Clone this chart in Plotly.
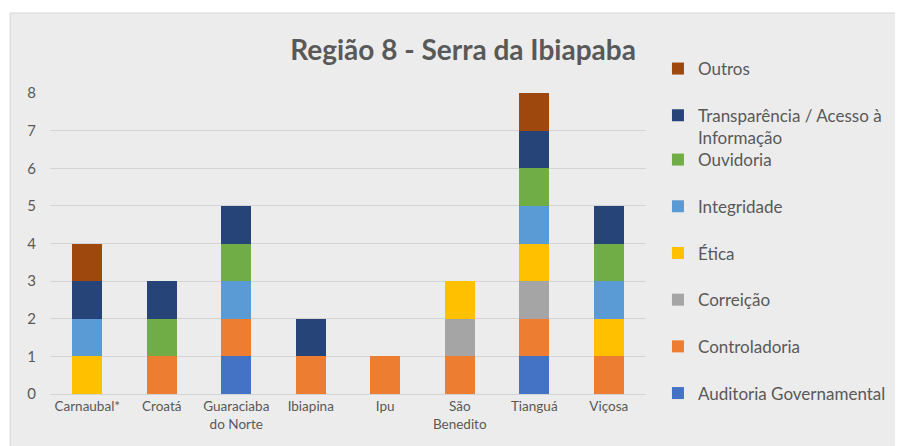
import plotly.graph_objects as go

categories = ["Carnaubal*", "Croatá", "Guaraciaba<br>do Norte", "Ibiapina", "Ipu",
              "São<br>Benedito", "Tianguá", "Viçosa"]

# series listed bottom-of-stack first
auditoria     = [0, 0, 1, 0, 0, 0, 1, 0]
controladoria = [0, 1, 1, 1, 1, 1, 1, 1]
correicao     = [0, 0, 0, 0, 0, 1, 1, 0]
etica         = [1, 0, 0, 0, 0, 1, 1, 1]
integridade   = [1, 0, 1, 0, 0, 0, 1, 1]
ouvidoria     = [0, 1, 1, 0, 0, 0, 1, 1]
transparencia = [1, 1, 1, 1, 0, 0, 1, 1]
outros        = [1, 0, 0, 0, 0, 0, 1, 0]

series = [
    ("Auditoria Governamental", auditoria, "#4472C4", "legend2"),
    ("Controladoria", controladoria, "#ED7D31", "legend2"),
    ("Correição", correicao, "#A5A5A5", "legend2"),
    ("Ética", etica, "#FFC000", "legend2"),
    ("Integridade", integridade, "#5B9BD5", "legend2"),
    ("Ouvidoria", ouvidoria, "#70AD47", "legend2"),
    ("Transparência / Acesso à<br>Informação", transparencia, "#264478", "legend"),
    ("Outros", outros, "#9E480E", "legend"),
]

y_ticks = [0, 1, 2, 3, 4, 5, 6, 7, 8]

FONT = "Lato, 'Open Sans', sans-serif"
TXT = "#595959"

# page is rendered inside a body with 8px margin: work in page pixels, shift by OFF
OFF = 8
W, H = 903 - OFF, 446 - OFF

def fx(p):  # page px -> figure px
    return p - OFF

L, T = fx(50), fx(93)
R = W - fx(648)
B = H - fx(394)
pw, ph = W - L - R, H - T - B

def px_x(p):
    return (fx(p) - L) / pw

def px_y(p):
    return (H - B - fx(p)) / ph

fig = go.Figure()
n = len(series)
for i, (name, vals, color, lg) in enumerate(series):
    fig.add_trace(go.Bar(
        x=categories, y=vals, name=name, marker=dict(color=color, line=dict(width=0)),
        legend=lg, legendgroup=f"g{i}", legendrank=n - i,
    ))

fig.add_shape(type="rect", xref="paper", yref="paper",
              x0=px_x(10), x1=px_x(920), y0=px_y(470), y1=px_y(13),
              fillcolor="#ececec", line=dict(color="#d6d6d6", width=1), layer="below")

legend_common = dict(
    font=dict(family=FONT, size=17, color=TXT),
    bgcolor="rgba(0,0,0,0)", traceorder="grouped",
    tracegroupgap=21.6, valign="top", xanchor="left", yanchor="top",
    itemclick=False, itemdoubleclick=False,
)

fig.update_layout(
    width=W, height=H,
    margin=dict(l=L, r=R, t=T, b=B),
    paper_bgcolor="white", plot_bgcolor="rgba(0,0,0,0)",
    barmode="stack", bargap=0.6,
    title=dict(text="<b>Região 8 - Serra da Ibiapaba</b>", x=fx(463) / W, xanchor="center",
               y=1 - fx(50) / H, yanchor="middle",
               font=dict(family=FONT, size=28, color=TXT)),
    font=dict(family=FONT, color=TXT),
    legend=dict(x=px_x(660), y=px_y(51), **legend_common),
    legend2=dict(x=px_x(660), y=px_y(142), **legend_common),
    showlegend=True,
)

fig.update_xaxes(showgrid=False, showline=True, linecolor="#d3d3d3", linewidth=1,
                 tickfont=dict(family=FONT, size=13.5, color=TXT), ticks="")
fig.update_yaxes(range=[0, 8], tickvals=y_ticks, showgrid=True, gridcolor="#d3d3d3",
                 gridwidth=1, zeroline=False, showline=False,
                 tickfont=dict(family=FONT, size=15, color=TXT), ticklabelstandoff=13)

fig.write_html("out.html")
